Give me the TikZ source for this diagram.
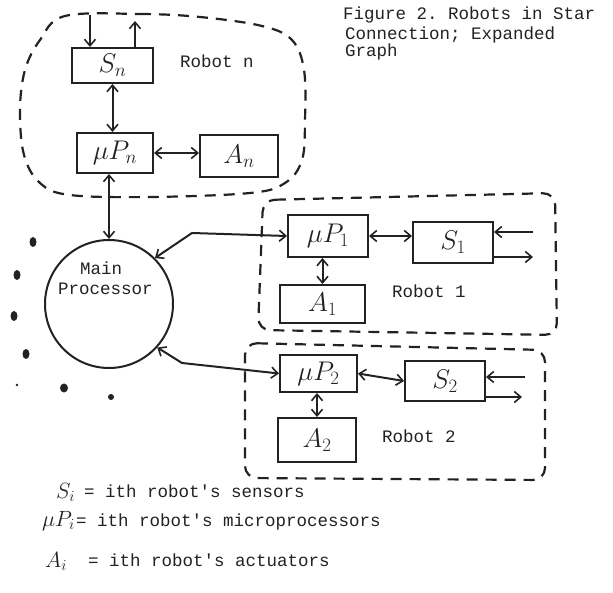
\RequirePackage{fix-cm}
\documentclass[tikz,border=0pt]{standalone}
\usepackage{fontspec}
\setmonofont{Liberation Mono}
\usetikzlibrary{arrows.meta,calc}
\definecolor{inkc}{RGB}{34,34,34}
\newcommand\lbl{\fontsize{17.5}{19}\selectfont\ttfamily}
\newcommand\hand{\fontsize{27}{30}\selectfont}
\newcommand\legm{\fontsize{22}{24}\selectfont}
\tikzset{
 ink/.style={draw=inkc, line width=2pt},
 blk/.style={ink, rectangle, inner sep=0pt, font=\hand, text=inkc},
 dashbox/.style={draw=inkc, line width=2.2pt, dash pattern=on 11pt off 8pt},
 barb/.tip={Straight Barb[length=6.5pt,width=11pt,line width=1.6pt]},
 arr/.style={ink, -barb},
 biarr/.style={ink, barb-barb},
 txt/.style={font=\lbl, text=inkc, inner sep=0pt, anchor=base west},
 mtxt/.style={font=\legm, text=inkc, inner sep=0pt, anchor=base west},
}
\begin{document}
\begin{tikzpicture}[x=1pt,y=-1pt]
\useasboundingbox (0,0) rectangle (613,593);
\fill[white] (0,0) rectangle (613,593);

% ---- Robot n ----
\draw[dashbox] plot[smooth cycle, tension=0.6] coordinates {(65,16) (140,14) (200,17) (262,26) (292,40) (304,70) (305,120) (302,160) (285,183) (250,193) (150,197) (70,195) (40,183) (24,155) (20,110) (25,70) (40,40)};
\node[blk, minimum width=81pt, minimum height=35pt] (Sn) at (112.5,65.5) {$S_n$};
\node[blk, minimum width=76pt, minimum height=40pt] (muPn) at (115,153) {$\mu P_n$};
\node[blk, minimum width=78pt, minimum height=42pt] (An) at (239,156) {$A_n$};
\node[txt] (robn) at (180,68) {Robot n};
\coordinate (snin) at (90,15);
\coordinate (snout) at (135,21);
\draw[arr] (snin) -- (snin |- Sn.north);
\draw[arr] (snout |- Sn.north) -- (snout);
\draw[biarr] (Sn.south) -- (Sn.south |- muPn.north);
\draw[biarr] (muPn.east) -- (muPn.east -| An.west);

% ---- Main processor ----
\node[ink, circle, minimum size=128pt, inner sep=0pt] (main) at (109,304) {};
\node[txt] (mainl1) at (80,275) {Main};
\node[txt] (mainl2) at (58,295) {Processor};
\draw[biarr] (muPn.south -| main.north) -- (main.north);

% ---- Robot 1 ----
\draw[dashbox, rounded corners=12pt] (263,200) -- (555,193) -- (557,335) -- (258,330) -- cycle;
\node[blk, minimum width=80pt, minimum height=42pt] (muP1) at (328,236) {$\mu P_1$};
\node[blk, minimum width=80pt, minimum height=41pt] (S1) at (453,242.5) {$S_1$};
\node[blk, minimum width=85pt, minimum height=38pt] (A1) at (322.5,304) {$A_1$};
\node[txt] (rob1) at (392,298) {Robot 1};
\coordinate (s1in) at (533,232);
\coordinate (s1out) at (533,257);
\coordinate (k1) at (192,233);
\draw[biarr] (main.45) -- (k1) -- (muP1.west);
\draw[biarr] (muP1.south -| A1.north) -- (A1.north);
\draw[biarr] (muP1.east) -- (muP1.east -| S1.west);
\draw[arr] (s1in) -- (s1in -| S1.east);
\draw[arr] (s1out -| S1.east) -- (s1out);

% ---- Robot 2 ----
\draw[dashbox, rounded corners=12pt] (245,343) -- (545,350) -- (545,480) -- (245,478) -- cycle;
\node[blk, minimum width=77pt, minimum height=37pt] (muP2) at (318.5,373.5) {$\mu P_2$};
\node[blk, minimum width=80pt, minimum height=40pt] (S2) at (445,381) {$S_2$};
\node[blk, minimum width=78pt, minimum height=44pt] (A2) at (317,440) {$A_2$};
\node[txt] (rob2) at (382,442) {Robot 2};
\coordinate (s2in) at (525,377);
\coordinate (s2out) at (522,397);
\coordinate (k2) at (182,363);
\draw[biarr] (main.-42) -- (k2) -- (muP2.west);
\draw[biarr] (muP2.south -| A2.north) -- (A2.north);
\draw[biarr] (muP2.east) -- (S2.west);
\draw[arr] (s2in) -- (s2in -| S2.east);
\draw[arr] (s2out -| S2.east) -- (s2out);

% ---- dots ----
\fill[inkc] (33,242) ellipse (3.5pt and 5pt);
\fill[inkc] (17,275) ellipse (3.5pt and 5pt);
\fill[inkc] (14,316) ellipse (3.5pt and 5pt);
\fill[inkc] (26,354) ellipse (3.5pt and 5pt);
\fill[inkc] (64,388) ellipse (4pt and 4.5pt);
\fill[inkc] (111,397) ellipse (3pt and 3pt);
\fill[inkc] (17,385) circle (1.3pt);

% ---- title ----
\node[txt] (t1) at (343,20) {Figure 2. Robots in Star};
\node[txt] (t2) at (345,40) {Connection; Expanded};
\node[txt] (t3) at (345,57) {Graph};

% ---- legend ----
\node[mtxt] (lg1m) at (56,498) {$S_i$};
\node[txt] (lg1t) at (84,497) {= ith robot's sensors};
\node[mtxt] (lg2m) at (42,526) {$\mu P_i$};
\node[txt] (lg2t) at (76,526) {= ith robot's microprocessors};
\node[mtxt] (lg3m) at (45,567) {$A_i$};
\node[txt] (lg3t) at (88,566) {= ith robot's actuators};
\end{tikzpicture}
\end{document}
